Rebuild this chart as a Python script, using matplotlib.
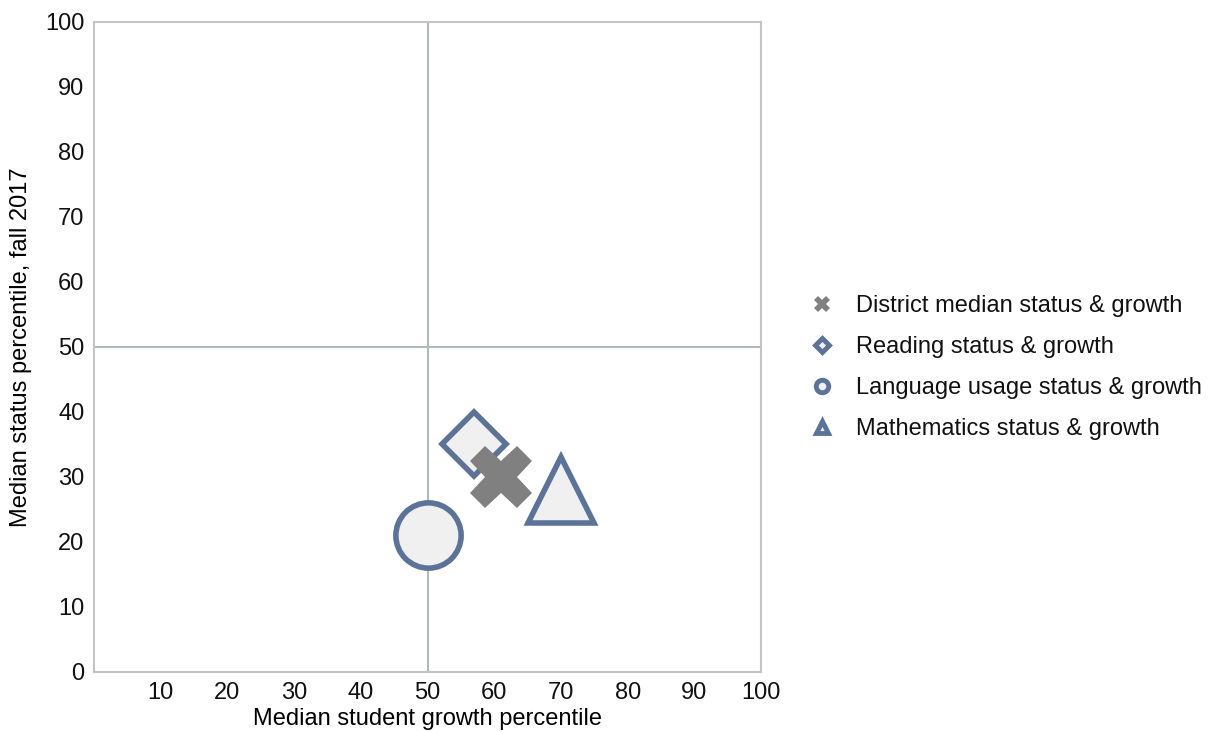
import matplotlib.pyplot as plt
from matplotlib.lines import Line2D

plt.rcParams['font.family'] = ['Liberation Sans', 'DejaVu Sans']

labels = ['District median status & growth', 'Reading status & growth',
          'Language usage status & growth', 'Mathematics status & growth']
growth = [61, 57, 50, 70]
status = [30, 35, 21, 28]
markers = ['X', 'D', 'o', '^']
sizes = [45, 33, 47, 47]
xticks = [10, 20, 30, 40, 50, 60, 70, 80, 90, 100]
yticks = [0, 10, 20, 30, 40, 50, 60, 70, 80, 90, 100]

edge = '#5b7399'
face = '#f0f0f0'
gray = '#808080'

fig = plt.figure(figsize=(12.09, 7.32), dpi=100)
ax = fig.add_axes([0.0778, 0.082, 0.5517, 0.888])
ax.set_xlim(0, 100)
ax.set_ylim(0, 100)

ax.axvline(50, color='#aebcb5', lw=1.5, zorder=1)
ax.axhline(50, color='#aebcb5', lw=1.5, zorder=1)

# draw order: language, reading, math, district on top
order = [2, 1, 3, 0]
for i in order:
    if markers[i] == 'X':
        ax.plot(growth[i], status[i], marker='X', ms=sizes[i], color=gray,
                mec=gray, mew=0, ls='none', zorder=5)
    else:
        ax.plot(growth[i], status[i], marker=markers[i], ms=sizes[i], mfc=face,
                mec=edge, mew=4, ls='none', zorder=3)

for s in ax.spines.values():
    s.set_color('#c4c4c4')
    s.set_linewidth(1.5)

ax.set_xticks(xticks)
ax.set_yticks(yticks)
ax.tick_params(length=0, labelsize=17, colors='#111111', pad=7)
ax.set_xlabel('Median student growth percentile', fontsize=17, labelpad=3)
ax.set_ylabel('Median status percentile, fall 2017', fontsize=17, labelpad=9)

handles = []
for i in range(4):
    if markers[i] == 'X':
        h = Line2D([], [], marker='X', ms=11, color=gray, mew=0, ls='none')
    else:
        h = Line2D([], [], marker=markers[i], ms=9 if markers[i] != 'D' else 7.5,
                   mfc=face, mec=edge, mew=3.5, ls='none')
    handles.append(h)
leg = ax.legend(handles, labels, loc='center left', bbox_to_anchor=(1.04, 0.468),
                frameon=False, fontsize=17, handletextpad=0.88,
                labelspacing=0.8, handlelength=1.1)
for t in leg.get_texts():
    t.set_color('#111111')

fig.savefig('out.png', dpi=100)
